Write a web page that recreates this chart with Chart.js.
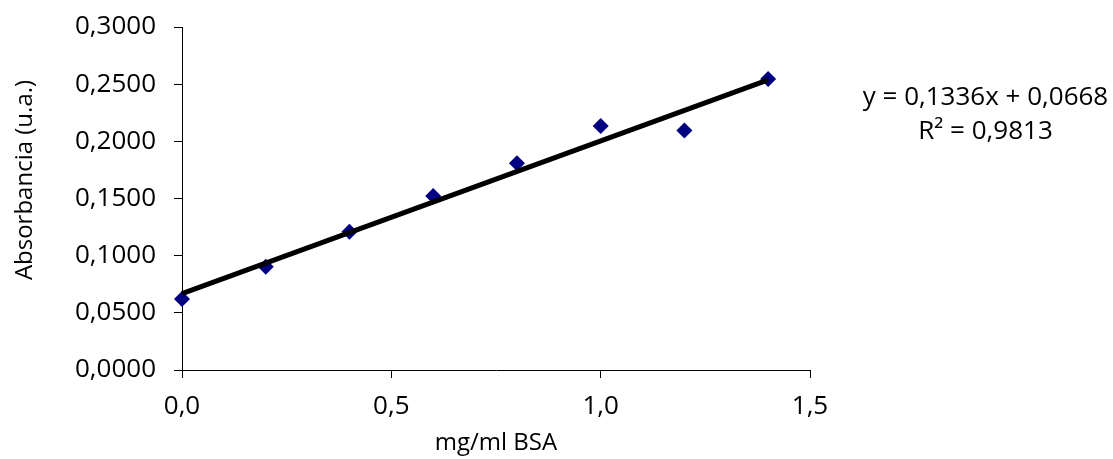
<!DOCTYPE html>
<html>
<head>
<meta charset="utf-8">
<script src="https://cdn.jsdelivr.net/npm/chart.js@4"></script>
<style>
  html, body { margin: 0; padding: 0; background: #fff; }
  #wrap { position: relative; width: 1113px; height: 459px; }
  #eq { position: absolute; left: 840px; width: 291px; top: 78px; text-align: center;
        font-family: "Open Sans", sans-serif; font-size: 26px; line-height: 34px; color: #000; }
</style>
</head>
<body>
<div id="wrap">
  <canvas id="c" width="1113" height="459"></canvas>
  <div id="eq"><div>y = 0,1336x + 0,0668</div><div>R² = 0,9813</div></div>
</div>
<script>
const concentrations = [0, 0.2, 0.4, 0.6, 0.8, 1.0, 1.2, 1.4];
const absorbance = [0.0621, 0.0904, 0.1210, 0.1522, 0.1808, 0.2135, 0.2094, 0.2546];
const trendX = [0, 1.4];
const trendY = [0.0668, 0.2538];
const xTitle = "mg/ml BSA";
const yTitle = "Absorbancia (u.a.)";

const FONT = "'Open Sans', sans-serif";

const yTitlePlugin = {
  id: 'yTitle',
  afterDraw(chart) {
    const ctx = chart.ctx;
    ctx.save();
    ctx.translate(25, 180);
    ctx.rotate(-Math.PI / 2);
    ctx.font = "24px " + FONT;
    ctx.fillStyle = '#000';
    ctx.textAlign = 'center';
    ctx.textBaseline = 'middle';
    ctx.fillText(yTitle, 0, 0);
    ctx.restore();
  }
};

new Chart(document.getElementById('c'), {
  type: 'scatter',
  data: {
    datasets: [
      {
        label: 'Tendencia',
        type: 'line',
        data: trendX.map((x, i) => ({ x: x, y: trendY[i] })),
        borderColor: '#000',
        borderWidth: 5,
        pointRadius: 0,
        fill: false,
        showLine: true,
        order: 0,
        clip: false
      },
      {
        label: 'Absorbancia',
        data: concentrations.map((x, i) => ({ x: x, y: absorbance[i] })),
        pointStyle: 'rectRot',
        pointRadius: 8,
        backgroundColor: '#000080',
        borderColor: '#000080',
        borderWidth: 0,
        order: 1,
        clip: false
      }
    ]
  },
  plugins: [yTitlePlugin],
  options: {
    responsive: false,
    animation: false,
    devicePixelRatio: 1,
    layout: { padding: { top: 27, right: 303, left: 0, bottom: 0 } },
    plugins: { legend: { display: false }, tooltip: { enabled: false } },
    scales: {
      x: {
        type: 'linear',
        min: 0, max: 1.5,
        afterFit: s => { s.height = 89; },
        ticks: {
          stepSize: 0.5,
          padding: 13,
          color: '#000',
          font: { family: FONT, size: 26 },
          callback: v => v.toFixed(1).replace('.', ',')
        },
        grid: { display: true, drawOnChartArea: false, drawTicks: true, tickLength: 8, color: '#000' },
        border: { display: true, color: '#000', width: 1 },
        title: { display: true, text: xTitle, color: '#000', font: { family: FONT, size: 24 }, padding: { top: 0, bottom: 1 } }
      },
      y: {
        type: 'linear',
        min: 0, max: 0.3,
        afterFit: s => { s.width = 182; s.paddingTop = 0; s.paddingBottom = 0; },
        ticks: {
          stepSize: 0.05,
          padding: 18,
          color: '#000',
          font: { family: FONT, size: 26 },
          callback: v => v.toFixed(4).replace('.', ',')
        },
        grid: { display: true, drawOnChartArea: false, drawTicks: true, tickLength: 8, color: '#000' },
        border: { display: true, color: '#000', width: 1 },
        title: { display: false }
      }
    }
  }
});
</script>
</body>
</html>
